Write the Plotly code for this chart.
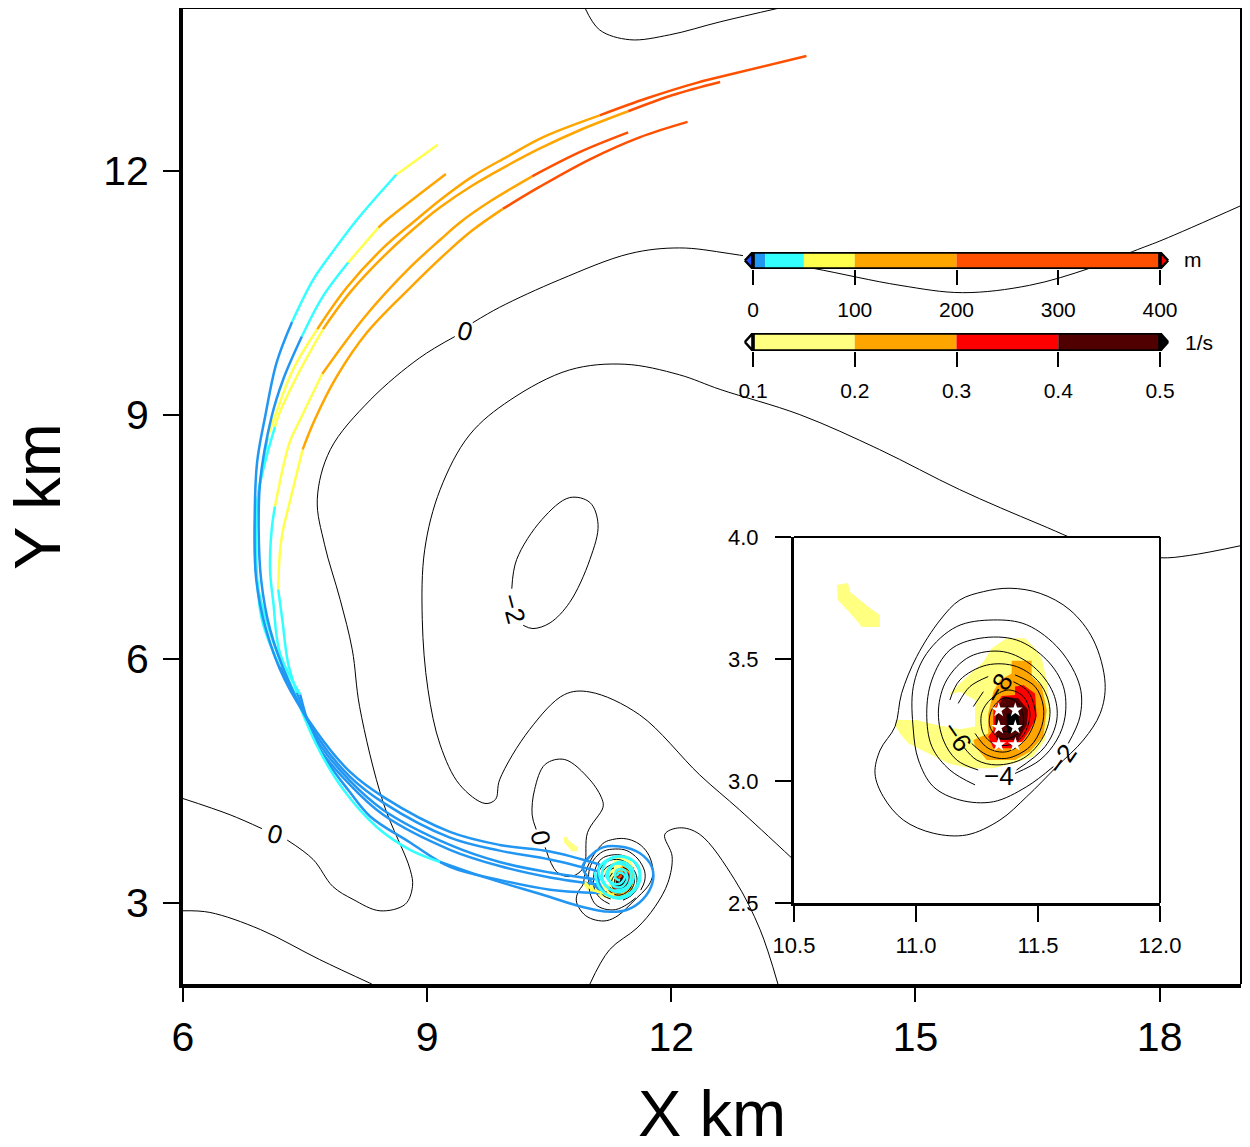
import plotly.graph_objects as go

PAGE_MARGIN = 8
W, H = 1234, 1131
FONT = "Liberation Sans"

# ---------- height bins (m) and vorticity bins (1/s)
height_edges = [0, 12, 50, 100, 200, 400]
height_colors = ["#2196F3", "#33FFFF", "#FFFF4D", "#FFA500", "#FF5000"]
vort_edges = [0.1, 0.2, 0.3, 0.4, 0.5]
vort_colors = ["#FFFF80", "#FFA500", "#FF0000", "#500000"]
height_ticks = [0, 100, 200, 300, 400]
vort_ticks = [0.1, 0.2, 0.3, 0.4, 0.5]

# ---------- pressure contours of the large domain (km)
big0_x = [19.0,18.04,17.73,17.14,16.40,15.58,14.81,13.74,12.72,12.10,11.49,10.63,9.89,9.56,None,
          9.34,8.91,8.30,7.81,7.65,7.74,7.93,8.08,8.17,8.46,8.79,8.82,8.73,8.42,8.09,7.84,7.60,7.28,None,6.97,6.58,6.00]
big0_y = [11.57,11.15,11.03,10.80,10.59,10.50,10.59,10.80,10.98,11.05,10.98,10.66,10.32,10.13,None,
          9.96,9.70,9.18,8.57,7.96,7.40,6.73,6.11,5.41,4.23,3.41,3.20,2.98,2.90,3.04,3.20,3.53,3.77,None,3.91,4.08,4.28]
top0_x = [10.94,11.12,11.49,11.98,12.60,13.33]
top0_y = [14.0,13.73,13.61,13.67,13.83,14.0]
low0_x = [6.0,6.33,6.95,7.68,8.32]
low0_y = [2.90,2.88,2.67,2.30,2.0]
inner0_x = [19.0,18.37,18.0,17.26,16.53,15.54,14.56,13.58,12.60,12.10,11.43,10.75,10.02,9.52,9.16,8.97,8.94,9.01,9.16,9.40,9.71,9.84,9.89,10.26,10.69,11.0,11.61,12.35,12.84,13.50]
inner0_y = [7.39,7.27,7.24,7.36,7.65,8.08,8.57,9.0,9.31,9.49,9.62,9.55,9.18,8.75,8.08,7.34,6.48,5.62,4.94,4.45,4.22,4.27,4.51,5.13,5.56,5.59,5.31,4.57,4.14,3.53]
minus2_x = [10.04,10.10,10.41,10.75,11.0,11.10,11.0,10.75,10.51,10.30,10.18]
minus2_y = [6.86,7.22,7.71,7.98,7.92,7.65,7.22,6.69,6.44,6.37,6.41]
south0_x = [11.0,11.24,11.58,11.80,11.96,12.01,11.92,12.10,12.35,12.78,13.09,13.31]
south0_y = [2.0,2.42,2.69,2.95,3.25,3.57,3.84,3.92,3.84,3.28,2.67,2.0]
north0_x = [10.34,10.29,10.32,10.45,10.69,11.0,11.15,11.16,10.97,10.94,10.88,10.75,10.59,10.45]
north0_y = [3.90,4.08,4.39,4.70,4.76,4.51,4.27,4.17,3.86,3.49,3.38,3.32,3.38,3.68]

# ---------- pressure contours round the cyclone (km)
ring1_x = [10.914,10.941,11.003,11.099,11.18,11.276,11.385,11.509,11.631,11.727,11.775,11.755,11.686,11.577,11.454,11.344,11.208,11.071,10.948,10.866,10.832,10.853,10.914]
ring1_y = [3.223,3.359,3.510,3.660,3.742,3.776,3.790,3.769,3.701,3.578,3.400,3.277,3.168,3.059,2.936,2.840,2.779,2.786,2.840,2.936,3.031,3.127,3.223]
ring2_x = [11.624,11.672,11.672,11.590,11.454,11.317,11.167,11.044,10.989,10.989,11.010,11.071,11.18,11.317,11.454,11.563]
ring2_y = [3.154,3.264,3.387,3.537,3.640,3.660,3.633,3.523,3.387,3.209,3.086,2.977,2.922,2.915,2.977,3.059]
ring3_x = [11.406,11.508,11.577,11.611,11.604,11.536,11.412,11.262,11.139,11.065,11.044,11.065,11.139,11.242]
ring3_y = [3.031,3.086,3.168,3.264,3.387,3.496,3.578,3.585,3.537,3.414,3.277,3.141,3.045,2.984]
ring4_x = [11.412,11.529,11.577,11.563,11.481,11.358,11.221,11.126,11.092,11.112,11.167,11.255]
ring4_y = [3.045,3.141,3.250,3.359,3.469,3.530,3.510,3.414,3.291,3.168,3.086,3.045]
ring5_x = [11.194,11.249,11.331,11.440,11.522,11.549,11.508,11.412,11.290,11.180,11.139]
ring5_y = [3.141,3.086,3.066,3.093,3.182,3.291,3.400,3.469,3.475,3.414,3.332]
ring6_x = [11.228,11.290,11.372,11.467,11.515,11.522,11.488,11.406,None,11.296,11.221,11.173]
ring6_y = [3.154,3.107,3.093,3.141,3.223,3.305,3.387,3.435,None,3.428,3.387,3.318]
ring7_x = [11.242,11.296,11.372,11.447,11.488,11.488,11.460,11.399,None,11.276,11.235]
ring7_y = [3.195,3.134,3.120,3.168,3.250,3.291,3.366,3.407,None,3.366,3.305]
ring8_x = [11.467,11.440,11.378,11.310,11.269,11.276,11.317,11.385,11.440,11.467]
ring8_y = [3.277,3.346,3.373,3.339,3.277,3.195,3.154,3.148,3.188,3.277]
ring9_x = [11.440,11.412,11.358,11.310,11.303,11.344,11.399,11.433,11.440]
ring9_y = [3.264,3.325,3.339,3.291,3.223,3.175,3.182,3.216,3.264]
ring10_x = [11.412,11.378,11.337,11.331,11.365,11.406,11.412]
ring10_y = [3.264,3.305,3.277,3.230,3.202,3.223,3.264]

# ---------- vorticity regions (km)
v1_x = [10.914,11.003,11.085,11.180,11.242,11.242,11.180,11.133,11.173,11.276,11.310,11.372,11.447,11.488,11.515,11.536,11.549,11.529,11.481,11.399,11.317,11.221,11.133,11.051,10.969,10.934,10.914]
v1_y = [3.250,3.250,3.230,3.212,3.223,3.332,3.366,3.352,3.393,3.489,3.544,3.585,3.585,3.544,3.503,3.414,3.291,3.168,3.100,3.072,3.052,3.052,3.072,3.113,3.154,3.195,3.229]
v1b_x = [10.676,10.721,10.730,10.770,10.811,10.852,10.852,10.779,10.730,10.680]
v1b_y = [3.803,3.811,3.775,3.742,3.709,3.680,3.631,3.631,3.689,3.742]
v2_x = [11.392,11.474,11.474,11.515,11.536,11.522,11.467,11.406,11.290,11.242,11.235,11.296,11.296,11.317,11.344,11.392]
v2_y = [3.493,3.493,3.428,3.387,3.291,3.182,3.120,3.086,3.086,3.141,3.168,3.195,3.277,3.366,3.414,3.441]
v3_x = [11.406,11.440,11.488,11.495,11.467,11.440,11.406,11.317,11.296,11.317,11.317,11.351,11.406]
v3_y = [3.387,3.393,3.359,3.264,3.209,3.168,3.134,3.134,3.182,3.209,3.291,3.348,3.352]
v4_x = [11.358,11.419,11.460,11.454,11.419,11.331,11.324,11.337]
v4_y = [3.346,3.339,3.291,3.229,3.168,3.168,3.250,3.305]
v5_x = [11.372,11.419,11.426,11.378,11.372]
v5_y = [3.277,3.277,3.209,3.195,3.223]
star_x = [11.339,11.407,11.339,11.407,11.339,11.407]
star_y = [3.291,3.291,3.220,3.220,3.149,3.149]

# ---------- trajectories: position (km) and height (m)
a_x = [9.13,8.62,8.14,7.83,7.60,7.34,7.15,7.01,6.91,6.88,6.90,7.02,7.25,7.65,8.05,8.46,9.28,9.89,10.51,11.12]
a_y = [12.32,11.95,11.40,10.99,10.66,10.14,9.64,8.98,8.41,7.59,6.97,6.36,5.74,5.09,4.61,4.30,3.87,3.71,3.63,3.47]
a_z = [60,52,40,30,22,13,10,9,9,8,8,8,8,7,7,7,6,6,6,6]
b_x = [9.23,8.51,8.40,8.03,7.71,7.46,7.23,7.09,6.95,6.93,6.96,7.07,7.29,7.65,8.05,8.46,9.28,9.89,10.51,11.12]
b_y = [11.96,11.40,11.30,10.87,10.44,9.96,9.43,8.98,8.20,7.59,6.97,6.36,5.74,5.04,4.55,4.23,3.80,3.64,3.53,3.38]
b_z = [120,105,101,51,30,13,10,9,9,8,8,8,8,7,7,7,6,6,6,6]
c_x = [13.66,12.63,12.31,11.70,11.12,10.42,9.98,9.56,9.16,8.87,8.46,8.01,7.65,7.35,7.13,7.04,6.92,6.88,6.92,7.11,7.35,7.65,7.97,8.38,8.79,9.16,9.68,10.51,10.79,11.21,11.45,11.65,11.77,11.76,11.61,11.37,11.16,11.0,10.91,11.0,11.18]
c_y = [13.41,13.16,13.08,12.89,12.68,12.41,12.17,11.93,11.64,11.40,11.05,10.56,10.05,9.55,8.98,8.72,7.99,7.59,6.89,6.20,5.62,4.92,4.39,3.93,3.65,3.50,3.32,3.07,2.98,2.89,2.91,3.04,3.25,3.44,3.61,3.69,3.68,3.57,3.44,3.28,3.10]
c_z = [250,230,225,210,201,190,175,165,155,145,130,115,101,85,65,51,40,35,30,28,25,22,20,18,15,13,10,9,9,9,9,9,8,8,8,8,8,8,8,8,8]
d_x = [12.60,12.02,11.47,10.88,10.38,9.98,9.56,9.16,8.97,8.51,8.05,7.72,7.44,7.17,7.13,6.92,6.90,6.97,7.19,7.44,7.65,8.05,8.46,9.28,9.89,10.51,11.12]
d_y = [13.09,12.93,12.73,12.50,12.27,12.06,11.82,11.55,11.40,10.99,10.50,10.05,9.55,8.98,8.85,7.99,7.22,6.48,5.90,5.43,4.99,4.50,4.14,3.71,3.50,3.37,3.28]
d_z = [260,230,201,190,180,170,160,150,140,125,110,101,85,60,51,40,30,20,13,10,9,8,8,7,6,6,6]
e_x = [11.47,10.88,10.29,9.77,9.40,9.16,8.79,8.24,7.71,7.44,7.31,7.13,7.09,7.07,7.11,7.19,7.44,7.65,8.05,8.46,9.28,9.89,10.51,11.12]
e_y = [12.47,12.23,11.93,11.62,11.36,11.15,10.81,10.21,9.50,8.94,8.66,7.87,7.59,7.09,6.69,6.07,5.56,4.94,4.45,4.08,3.65,3.45,3.31,3.22]
e_z = [250,225,201,190,180,170,150,125,101,85,75,51,45,35,28,20,13,10,9,8,7,6,6,6]
f_x = [12.20,11.61,11.0,10.38,9.93,9.56,9.28,8.79,8.26,7.89,7.62,7.47,7.28,7.23,7.19,7.17,7.22,7.29,7.40,7.68,8.05,8.30,8.79,9.28,9.89,10.51,11.12]
f_y = [12.60,12.41,12.14,11.80,11.53,11.27,11.03,10.56,10.01,9.47,8.94,8.57,7.80,7.59,7.30,6.85,6.48,5.95,5.58,4.88,4.36,4.06,3.74,3.44,3.28,3.16,3.12]
f_z = [300,270,240,220,201,190,180,155,130,115,105,101,80,70,60,51,40,25,13,10,9,8,8,7,6,6,6]
eye1_x = [11.12,11.10,11.20,11.38,11.55,11.62,11.55,11.38,11.20,11.15,11.24,11.38,11.50,11.54,11.48,11.36,11.25,11.23,11.30,11.40,11.46,11.42,11.33,11.31,11.37]
eye1_y = [3.47,3.28,3.10,3.05,3.15,3.32,3.50,3.57,3.50,3.32,3.17,3.13,3.22,3.33,3.46,3.50,3.42,3.30,3.20,3.20,3.30,3.40,3.40,3.31,3.27]
eye1_z = [9,9,11,20,25,30,30,30,30,30,30,30,30,30,30,30,30,30,30,30,30,30,30,30,30]
eye2_x = [10.94,11.03,11.16,11.30]
eye2_y = [3.25,3.16,3.12,3.10]
eye2_z = [70,70,70,70]
eye3_x = [11.53,11.49,11.40]
eye3_y = [3.44,3.22,3.12]
eye3_z = [150,150,150]
eye4_x = [11.06,11.12,11.28,11.44,11.58,11.60,11.45,11.26,11.11,11.18,11.30,11.46,11.50,11.40,11.27,11.20,11.28,11.38,11.43,11.37,11.33]
eye4_y = [3.38,3.18,3.07,3.09,3.22,3.44,3.55,3.55,3.42,3.22,3.15,3.20,3.38,3.47,3.46,3.33,3.24,3.24,3.33,3.37,3.33]
eye4_z = [30,30,30,30,30,30,30,30,30,30,30,30,30,30,30,30,30,30,30,30,30]
eye5_x = [11.35,11.39]
eye5_y = [3.30,3.34]
eye5_z = [250,250]


def height_bin(v):
    for i in range(len(height_colors)):
        if v < height_edges[i + 1]:
            return i
    return len(height_colors) - 1


MAIN = dict(xaxis="x", yaxis="y")
INSET = dict(xaxis="x2", yaxis="y2")
fig = go.Figure()

regions = [(v1_x, v1_y, 0), (v1b_x, v1b_y, 0), (v2_x, v2_y, 1), (v3_x, v3_y, 2), (v4_x, v4_y, 3), (v5_x, v5_y, 4)]
rings = [(ring1_x, ring1_y), (ring2_x, ring2_y), (ring3_x, ring3_y), (ring4_x, ring4_y), (ring5_x, ring5_y),
         (ring6_x, ring6_y), (ring7_x, ring7_y), (ring8_x, ring8_y), (ring9_x, ring9_y), (ring10_x, ring10_y)]
large = [(big0_x, big0_y), (top0_x, top0_y), (low0_x, low0_y), (inner0_x, inner0_y), (minus2_x, minus2_y),
         (south0_x, south0_y), (north0_x, north0_y)]


def add_regions(ax):
    for rx, ry, k in regions:
        col = "#000000" if k == 4 else vort_colors[k]
        fig.add_trace(go.Scatter(x=rx, y=ry, mode="lines", fill="toself", fillcolor=col,
                                 line=dict(width=0, color=col), hoverinfo="skip", showlegend=False, **ax))


def add_lines(pairs, ax):
    for cx, cy in pairs:
        fig.add_trace(go.Scatter(x=cx, y=cy, mode="lines", hoverinfo="skip", showlegend=False,
                                 line=dict(color="black", width=1, shape="spline", smoothing=1.0), **ax))


add_regions(MAIN)
add_lines(large, MAIN)
add_lines(rings, MAIN)

tracks = [(f_x, f_y, f_z), (e_x, e_y, e_z), (d_x, d_y, d_z), (c_x, c_y, c_z), (b_x, b_y, b_z), (a_x, a_y, a_z),
          (eye2_x, eye2_y, eye2_z), (eye3_x, eye3_y, eye3_z), (eye1_x, eye1_y, eye1_z), (eye4_x, eye4_y, eye4_z),
          (eye5_x, eye5_y, eye5_z)]
for tx, ty, tz in tracks:
    start = 0
    n = len(tx)
    for i in range(1, n + 1):
        if i == n or height_bin(tz[i]) != height_bin(tz[start + 1 if start + 1 < n else start]):
            fig.add_trace(go.Scatter(x=tx[start:i], y=ty[start:i], mode="lines", hoverinfo="skip", showlegend=False,
                                     line=dict(color=height_colors[height_bin(tz[i - 1])], width=2.5,
                                               shape="spline", smoothing=1.0), **MAIN))
            start = i - 1

# inset: white ground, then its marks
inset_x = [10.5, 12.0, 12.0, 10.5, 10.5]
inset_y = [2.5, 2.5, 4.0, 4.0, 2.5]
fig.add_trace(go.Scatter(x=inset_x, y=inset_y, mode="lines", fill="toself", fillcolor="white",
                         line=dict(width=0), hoverinfo="skip", showlegend=False, **INSET))
add_regions(INSET)
add_lines(rings, INSET)
fig.add_trace(go.Scatter(x=star_x, y=star_y, mode="markers", hoverinfo="skip", showlegend=False,
                         marker=dict(symbol="star", size=11, color="white", line=dict(width=0)), **INSET))

# colour bars
for i, col in enumerate(height_colors):
    fig.add_trace(go.Bar(y=[0.5], x=[height_edges[i + 1] - height_edges[i]], base=[height_edges[i]], width=[1],
                         orientation="h", marker=dict(color=col, line=dict(width=0)), hoverinfo="skip",
                         showlegend=False, xaxis="x3", yaxis="y3"))
for i, col in enumerate(vort_colors):
    fig.add_trace(go.Bar(y=[0.5], x=[vort_edges[i + 1] - vort_edges[i]], base=[vort_edges[i]], width=[1],
                         orientation="h", marker=dict(color=col, line=dict(width=0)), hoverinfo="skip",
                         showlegend=False, xaxis="x4", yaxis="y4"))

cb1_pad = 8
cb2_pad = 0.008
for xs, col, ax in [
    ([-cb1_pad, 0, 0, -cb1_pad], "#1E50FF", ("x3", "y3")),
    ([400 + cb1_pad, 400, 400, 400 + cb1_pad], "#FF0000", ("x3", "y3")),
    ([0.1 - cb2_pad, 0.1, 0.1, 0.1 - cb2_pad], "#FFFFFF", ("x4", "y4")),
    ([0.5 + cb2_pad, 0.5, 0.5, 0.5 + cb2_pad], "#000000", ("x4", "y4")),
]:
    fig.add_trace(go.Scatter(x=xs, y=[0.5, 1, 0, 0.5], mode="lines", fill="toself", fillcolor=col, cliponaxis=False,
                             line=dict(color="black", width=2.5), hoverinfo="skip", showlegend=False,
                             xaxis=ax[0], yaxis=ax[1]))
fig.add_trace(go.Scatter(x=[0, 400, 400, 0, 0], y=[0, 0, 1, 1, 0], mode="lines", cliponaxis=False,
                         line=dict(color="black", width=3.5), hoverinfo="skip", showlegend=False, xaxis="x3", yaxis="y3"))
fig.add_trace(go.Scatter(x=[0.1, 0.5, 0.5, 0.1, 0.1], y=[0, 0, 1, 1, 0], mode="lines", cliponaxis=False,
                         line=dict(color="black", width=3.5), hoverinfo="skip", showlegend=False, xaxis="x4", yaxis="y4"))


def xd(a, b):
    return [(a - PAGE_MARGIN) / W, (b - PAGE_MARGIN) / W]


def yd(top, bottom):
    return [1 - (bottom - PAGE_MARGIN) / H, 1 - (top - PAGE_MARGIN) / H]


tick = dict(ticks="outside", tickcolor="black", showgrid=False, zeroline=False, automargin=False)
fig.update_layout(
    width=W, height=H, margin=dict(l=0, r=0, t=0, b=0), paper_bgcolor="white", plot_bgcolor="white",
    barmode="overlay", showlegend=False, font=dict(family=FONT, color="black"),
    xaxis=dict(domain=xd(183, 1241), range=[6, 19], tickvals=[6, 9, 12, 15, 18], ticklen=14, tickwidth=2,
               showline=True, linewidth=4, linecolor="black", tickfont=dict(size=41), anchor="y", **tick),
    yaxis=dict(domain=yd(8, 984), range=[2, 14], tickvals=[3, 6, 9, 12], ticklen=16, tickwidth=2,
               showline=True, linewidth=4, linecolor="black", tickfont=dict(size=41), ticklabelstandoff=6,
               anchor="x", **tick),
    xaxis2=dict(domain=xd(794, 1160), range=[10.5, 12], tickvals=[10.5, 11.0, 11.5, 12.0], ticktext=["10.5", "11.0", "11.5", "12.0"],
                ticklen=16, tickwidth=2, showline=True, linewidth=3, linecolor="black",
                tickfont=dict(size=22), ticklabelstandoff=5, anchor="y2", **tick),
    yaxis2=dict(domain=yd(537, 903), range=[2.5, 4], tickvals=[2.5, 3.0, 3.5, 4.0], ticktext=["2.5", "3.0", "3.5", "4.0"],
                ticklen=16, tickwidth=2, showline=True, linewidth=3, linecolor="black",
                tickfont=dict(size=22), ticklabelstandoff=12, anchor="x2", **tick),
    xaxis3=dict(domain=xd(743, 1170), range=[-9.83, 409.83], tickvals=height_ticks, ticklen=15, tickwidth=2,
                tickfont=dict(size=21), anchor="y3", ticklabelstandoff=7, **tick),
    yaxis3=dict(domain=yd(252, 269), range=[0, 1], visible=False, anchor="x3"),
    xaxis4=dict(domain=xd(743, 1170), range=[0.09017, 0.50983], tickvals=vort_ticks, ticktext=[f"{v:.1f}" for v in vort_ticks],
                ticklen=15, tickwidth=2, tickfont=dict(size=21), anchor="y4", ticklabelstandoff=6, **tick),
    yaxis4=dict(domain=yd(333, 351), range=[0, 1], visible=False, anchor="x4"),
)

# thin top and right frame edges of both panels
for xr, yr, x0, x1, y0, y1 in [("x domain", "y domain", 0, 1, 1, 1), ("x domain", "y domain", 1, 1, 0, 1),
                               ("x2 domain", "y2 domain", 0, 1, 1, 1), ("x2 domain", "y2 domain", 1, 1, 0, 1)]:
    fig.add_shape(type="line", xref=xr, yref=yr, x0=x0, x1=x1, y0=y0, y1=y1, line=dict(color="black", width=2))

labels = [
    ("x", "y", 9.46, 10.03, "0", 15),
    ("x", "y", 7.13, 3.85, "0", 15),
    ("x", "y", 10.40, 3.80, "0", 80),
    ("x", "y", 10.06, 6.61, "−2", 75),
    ("x2", "y2", 11.34, 3.38, "−8", -60),
    ("x2", "y2", 11.17, 3.18, "−6", 55),
    ("x2", "y2", 11.34, 3.02, "−4", 0),
    ("x2", "y2", 11.598, 3.09, "−2", -55),
]
for xr, yr, lx, ly, txt, ang in labels:
    fig.add_annotation(x=lx, y=ly, xref=xr, yref=yr, text=txt, textangle=ang, showarrow=False,
                       font=dict(size=26, family=FONT, color="black"))
for px, py, txt, size, ang in [(1193, 259, "m", 21, 0), (1199, 342, "1/s", 21, 0),
                               (712, 1113, "X km", 65, 0), (38, 497, "Y km", 65, -90)]:
    fig.add_annotation(x=(px - PAGE_MARGIN) / W, y=1 - (py - PAGE_MARGIN) / H, xref="paper", yref="paper", text=txt,
                       showarrow=False, xanchor="center", yanchor="middle", textangle=ang, font=dict(size=size))

fig.write_html("out.html")
